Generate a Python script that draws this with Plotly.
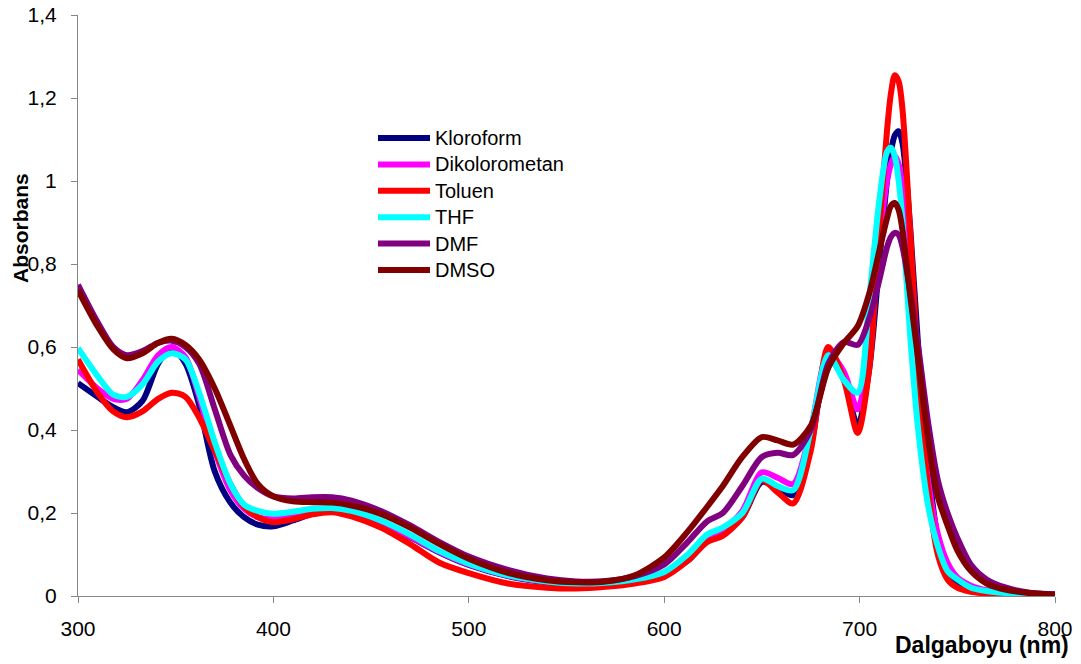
import plotly.graph_objects as go

wavelength = [300, 310, 318, 325, 333, 341, 348, 355, 362, 370, 378, 385, 392, 400,
              410, 420, 430, 440, 455, 470, 485, 500, 520, 540, 555, 570, 585, 600,
              612, 622, 630, 640, 650, 658, 666, 675, 684, 692, 699, 705, 710, 714,
              716, 718, 720, 722, 726, 730, 735, 740, 745, 750, 757, 765, 775, 787, 800]

kloroform = [0.513, 0.48, 0.455, 0.443, 0.47, 0.56, 0.598, 0.56, 0.46, 0.30, 0.225, 0.19, 0.172, 0.168,
             0.182, 0.198, 0.205, 0.200, 0.178, 0.142, 0.105, 0.075, 0.048, 0.033, 0.028, 0.030, 0.037, 0.052,
             0.085, 0.132, 0.148, 0.19, 0.275, 0.26, 0.243, 0.36, 0.575, 0.52, 0.41, 0.55, 0.80, 1.00,
             1.07, 1.11, 1.12, 1.09, 0.88, 0.60, 0.32, 0.14, 0.065, 0.035, 0.02, 0.012, 0.008, 0.005, 0.003]

dikolorometan = [0.545, 0.50, 0.475, 0.475, 0.52, 0.58, 0.60, 0.575, 0.48, 0.35, 0.255, 0.21, 0.19, 0.185,
                 0.193, 0.202, 0.206, 0.200, 0.178, 0.143, 0.106, 0.076, 0.049, 0.034, 0.029, 0.031, 0.039, 0.056,
                 0.095, 0.14, 0.158, 0.205, 0.298, 0.285, 0.27, 0.40, 0.585, 0.54, 0.45, 0.60, 0.85, 1.00,
                 1.04, 1.06, 1.04, 0.98, 0.74, 0.50, 0.28, 0.15, 0.08, 0.045, 0.025, 0.014, 0.009, 0.005, 0.003]

toluen = [0.57, 0.49, 0.445, 0.431, 0.445, 0.475, 0.49, 0.48, 0.43, 0.35, 0.27, 0.215, 0.19, 0.178,
          0.185, 0.197, 0.202, 0.192, 0.165, 0.125, 0.08, 0.055, 0.03, 0.02, 0.018, 0.022, 0.03, 0.046,
          0.085, 0.13, 0.145, 0.19, 0.279, 0.25, 0.223, 0.35, 0.60, 0.52, 0.393, 0.55, 0.88, 1.12,
          1.21, 1.255, 1.24, 1.17, 0.87, 0.55, 0.26, 0.10, 0.04, 0.02, 0.01, 0.006, 0.004, 0.003, 0.002]

thf = [0.597, 0.53, 0.485, 0.48, 0.51, 0.565, 0.585, 0.57, 0.49, 0.37, 0.27, 0.22, 0.205, 0.198,
       0.203, 0.21, 0.212, 0.205, 0.182, 0.148, 0.108, 0.078, 0.05, 0.035, 0.03, 0.032, 0.04, 0.058,
       0.10, 0.148, 0.165, 0.20, 0.283, 0.265, 0.255, 0.40, 0.58, 0.52, 0.49, 0.72, 0.95, 1.07,
       1.08, 1.06, 1.00, 0.90, 0.62, 0.40, 0.22, 0.12, 0.06, 0.04, 0.02, 0.012, 0.007, 0.004, 0.002]

dmf = [0.75, 0.66, 0.60, 0.58, 0.59, 0.61, 0.615, 0.60, 0.56, 0.45, 0.34, 0.29, 0.26, 0.24,
       0.235, 0.238, 0.238, 0.23, 0.205, 0.17, 0.13, 0.095, 0.063, 0.042, 0.035, 0.036, 0.048, 0.076,
       0.13, 0.18, 0.20, 0.265, 0.335, 0.345, 0.34, 0.40, 0.56, 0.612, 0.605, 0.67, 0.76, 0.84,
       0.865, 0.875, 0.87, 0.84, 0.73, 0.60, 0.42, 0.28, 0.20, 0.14, 0.075, 0.04, 0.02, 0.008, 0.004]

dmso = [0.737, 0.65, 0.595, 0.573, 0.585, 0.61, 0.62, 0.605, 0.57, 0.50, 0.41, 0.33, 0.27, 0.24,
        0.228, 0.226, 0.225, 0.218, 0.198, 0.165, 0.125, 0.09, 0.056, 0.038, 0.033, 0.035, 0.05, 0.093,
        0.155, 0.215, 0.265, 0.335, 0.383, 0.375, 0.365, 0.41, 0.55, 0.61, 0.65, 0.73, 0.83, 0.91,
        0.94, 0.947, 0.93, 0.88, 0.72, 0.57, 0.38, 0.24, 0.17, 0.11, 0.06, 0.03, 0.015, 0.007, 0.003]

series_names = ["Kloroform", "Dikolorometan", "Toluen", "THF", "DMF", "DMSO"]
series_values = [kloroform, dikolorometan, toluen, thf, dmf, dmso]
series_colors = ["#000080", "#FF00FF", "#FF0000", "#00FFFF", "#800080", "#800000"]

x_ticks = [300, 400, 500, 600, 700, 800]
y_ticks = [0, 0.2, 0.4, 0.6, 0.8, 1.0, 1.2, 1.4]
y_tick_labels = ["0", "0,2", "0,4", "0,6", "0,8", "1", "1,2", "1,4"]

FONT = "Liberation Sans, Arial, sans-serif"
W, H = 1081, 664
ML, MR, MT, MB = 78, 26, 15, 68
PW, PH = W - ML - MR, H - MT - MB

def px_to_paper_x(px):
    return (px - ML) / PW

def px_to_paper_y(py):
    return (H - MB - py) / PH

fig = go.Figure()
for name, vals, col in zip(series_names, series_values, series_colors):
    fig.add_trace(go.Scatter(x=wavelength, y=vals, name=name, mode="lines",
                             line=dict(color=col, width=6, shape="spline", smoothing=0.8)))

# legend drawn as layout shapes + text (Excel style, inside plot)
shapes = []
annotations = []
leg_x0, leg_x1, leg_tx, leg_y0, leg_dy = 378, 430, 433, 138, 26.4
for i, (name, col) in enumerate(zip(series_names, series_colors)):
    yy = px_to_paper_y(leg_y0 + i * leg_dy)
    shapes.append(dict(type="line", xref="paper", yref="paper",
                       x0=px_to_paper_x(leg_x0), x1=px_to_paper_x(leg_x1), y0=yy, y1=yy,
                       line=dict(color=col, width=6), layer="above"))
    annotations.append(dict(text=name, xref="paper", yref="paper",
                            x=px_to_paper_x(leg_tx), y=yy, xanchor="left", yanchor="middle",
                            showarrow=False, font=dict(family=FONT, size=20, color="black")))

annotations.append(dict(text="<b>Absorbans</b>", xref="paper", yref="paper",
                        x=px_to_paper_x(21), y=px_to_paper_y(228), xanchor="center", yanchor="middle",
                        textangle=-90, showarrow=False, font=dict(family=FONT, size=21, color="black")))
annotations.append(dict(text="<b>Dalgaboyu (nm)</b>", xref="paper", yref="paper",
                        x=px_to_paper_x(982), y=px_to_paper_y(645), xanchor="center", yanchor="middle",
                        showarrow=False, font=dict(family=FONT, size=23, color="black")))

fig.update_layout(
    width=W, height=H,
    margin=dict(l=ML, r=MR, t=MT, b=MB, pad=0),
    paper_bgcolor="white", plot_bgcolor="white",
    font=dict(family=FONT, size=21, color="black"),
    showlegend=False,
    shapes=shapes,
    annotations=annotations,
    xaxis=dict(range=[300, 800], tickvals=x_ticks, ticktext=[str(v) for v in x_ticks],
               showgrid=False, zeroline=False, showline=True, linecolor="#868686", linewidth=1,
               ticks="outside", ticklen=6, tickcolor="#868686", automargin=False,
               tickfont=dict(family=FONT, size=21, color="black"), ticklabelstandoff=8),
    yaxis=dict(range=[0, 1.4], tickvals=y_ticks, ticktext=y_tick_labels,
               showgrid=False, zeroline=False, showline=True, linecolor="#868686", linewidth=1,
               ticks="outside", ticklen=6, tickcolor="#868686", automargin=False,
               tickfont=dict(family=FONT, size=21, color="black"), ticklabelstandoff=10),
)

fig.write_html("out.html")
